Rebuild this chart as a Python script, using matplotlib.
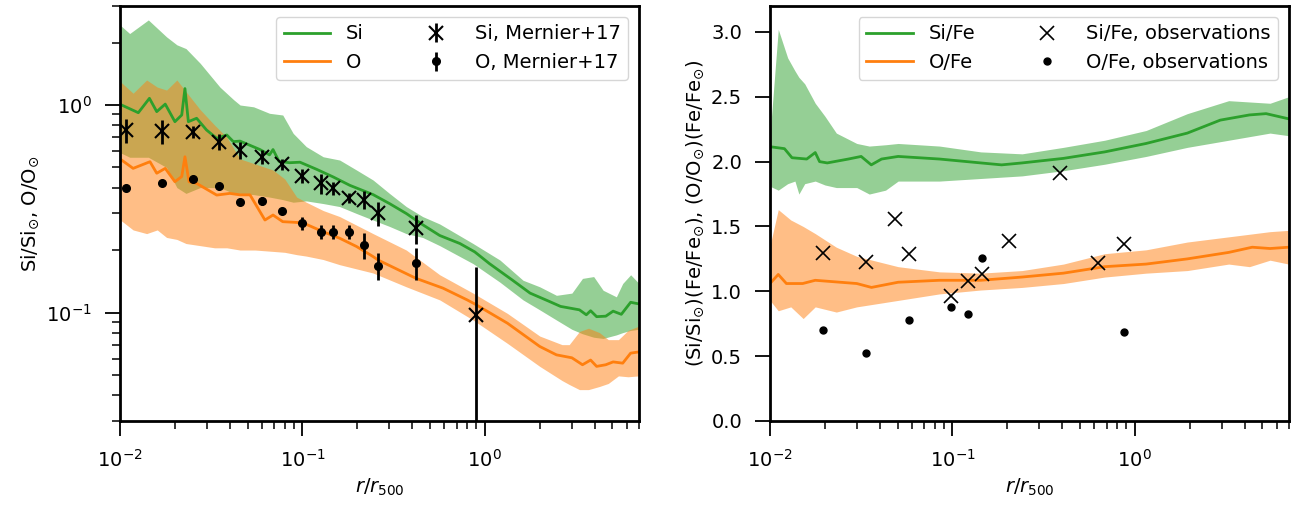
import numpy as np
import matplotlib
matplotlib.use("Agg")
import matplotlib.pyplot as plt

# ---- left panel: simulation medians ----
si_r = [0.0102, 0.0126, 0.0145, 0.0159, 0.0177, 0.0200, 0.0218, 0.0227, 0.0237, 0.0263,
        0.0298, 0.0339, 0.0385, 0.0418, 0.0455, 0.0585, 0.066, 0.069, 0.0744, 0.085,
        0.097, 0.1195, 0.1475, 0.182, 0.244, 0.30, 0.371, 0.456, 0.566, 0.73,
        0.88, 1.06, 1.42, 1.77, 2.26, 2.6, 3.3, 3.6, 3.8, 4.1,
        4.6, 5.05, 5.6, 6.3, 7.0]
si_med = [1.0, 0.918, 1.077, 0.929, 1.01, 0.831, 0.895, 1.20, 0.831, 0.863,
          0.758, 0.691, 0.717, 0.666, 0.67, 0.61, 0.575, 0.61, 0.535, 0.527,
          0.53, 0.49, 0.45, 0.41, 0.37, 0.335, 0.30, 0.265, 0.235, 0.215,
          0.196, 0.172, 0.143, 0.124, 0.113, 0.107, 0.103, 0.0975, 0.102, 0.0955,
          0.096, 0.1015, 0.098, 0.112, 0.110]

o_r = [0.0102, 0.0118, 0.0146, 0.0159, 0.0177, 0.0200, 0.0218, 0.0227, 0.0239, 0.0263,
       0.0339, 0.040, 0.0455, 0.0516, 0.0623, 0.069, 0.078, 0.091, 0.101, 0.13,
       0.16, 0.198, 0.244, 0.26, 0.42, 0.59, 0.80, 0.88, 1.33, 2.0,
       2.47, 3.0, 3.43, 3.8, 4.1, 4.6, 5.05, 5.7, 6.3, 7.0]
o_med = [0.543, 0.495, 0.533, 0.469, 0.495, 0.427, 0.452, 0.563, 0.427, 0.419,
         0.368, 0.375, 0.369, 0.369, 0.279, 0.295, 0.274, 0.272, 0.27, 0.245,
         0.228, 0.208, 0.186, 0.179, 0.146, 0.131, 0.115, 0.110, 0.0888, 0.0686,
         0.0625, 0.0605, 0.056, 0.059, 0.055, 0.056, 0.0578, 0.057, 0.0637, 0.0646]

# scatter bands
si_band_r = [0.0100, 0.0113, 0.0143, 0.018, 0.0205, 0.023, 0.0275, 0.0353, 0.042, 0.0455,
             0.054, 0.066, 0.078, 0.089, 0.105, 0.13, 0.16, 0.198, 0.244, 0.30,
             0.371, 0.456, 0.566, 0.862, 1.21, 1.62, 2.0, 2.47, 3.0, 3.43,
             3.95, 4.45, 5.26, 5.7, 6.3, 7.0]
si_hi = [2.43, 2.21, 2.57, 2.13, 1.95, 1.87, 1.59, 1.22, 1.06, 1.00,
         0.98, 0.912, 0.895, 0.73, 0.63, 0.563, 0.543, 0.486, 0.435, 0.375,
         0.324, 0.29, 0.267, 0.215, 0.179, 0.143, 0.133, 0.121, 0.124, 0.146,
         0.149, 0.128, 0.119, 0.138, 0.152, 0.138]
si_lo = [0.59, 0.56, 0.56, 0.50, 0.40, 0.375, 0.40, 0.40, 0.375, 0.375,
         0.37, 0.36, 0.35, 0.34, 0.345, 0.335, 0.324, 0.30, 0.279, 0.26,
         0.24, 0.23, 0.21, 0.172, 0.14, 0.115, 0.103, 0.092, 0.083, 0.079,
         0.076, 0.075, 0.078, 0.080, 0.082, 0.083]

o_band_r = [0.0100, 0.0118, 0.014, 0.016, 0.018, 0.0205, 0.023, 0.0275, 0.0330, 0.0385,
            0.0455, 0.055, 0.069, 0.080, 0.093, 0.105, 0.13, 0.16, 0.244, 0.371,
            0.566, 0.862, 1.33, 2.0, 2.65, 2.9, 3.3, 3.7, 4.25, 4.75,
            5.4, 6.1, 7.0]
o_hi = [1.30, 1.14, 1.32, 1.22, 1.18, 1.32, 1.16, 0.95, 0.80, 0.70,
        0.55, 0.52, 0.486, 0.44, 0.36, 0.34, 0.31, 0.29, 0.24, 0.20,
        0.152, 0.124, 0.099, 0.077, 0.070, 0.070, 0.081, 0.084, 0.080, 0.074,
        0.074, 0.082, 0.086]
o_lo = [0.28, 0.25, 0.24, 0.25, 0.23, 0.225, 0.215, 0.21, 0.205, 0.205,
        0.20, 0.20, 0.197, 0.195, 0.19, 0.187, 0.18, 0.17, 0.155, 0.133,
        0.115, 0.092, 0.071, 0.055, 0.047, 0.045, 0.0425, 0.0425, 0.044, 0.0455,
        0.0495, 0.049, 0.0495]

# Mernier+17 observations
obs_si_r = [0.0108, 0.0170, 0.0250, 0.035, 0.0455, 0.0603, 0.0775, 0.0998, 0.127, 0.1475,
            0.180, 0.217, 0.260, 0.42, 0.889]
obs_si = [0.758, 0.749, 0.744, 0.666, 0.607, 0.564, 0.518, 0.456, 0.419, 0.397,
          0.357, 0.349, 0.301, 0.255, 0.097]
obs_si_err = [0.10, 0.10, 0.05, 0.06, 0.055, 0.045, 0.03, 0.035, 0.045, 0.03,
              0.02, 0.035, 0.04, 0.04, 0.069]

obs_o_r = obs_si_r[:14]
obs_o = [0.399, 0.419, 0.438, 0.407, 0.342, 0.346, 0.31, 0.269, 0.245, 0.245,
         0.245, 0.212, 0.168, 0.174]
obs_o_err = [0.008, 0.008, 0.008, 0.008, 0.01, 0.015, 0.01, 0.02, 0.02, 0.02,
             0.02, 0.03, 0.025, 0.03]

# ---- right panel: ratios to Fe ----
sife_r = [0.01, 0.0120, 0.0132, 0.0159, 0.0177, 0.0187, 0.0206, 0.0269, 0.0316, 0.0359,
          0.0409, 0.0504, 0.0849, 0.143, 0.186, 0.241, 0.406, 0.684, 1.153, 1.94,
          2.94, 4.25, 5.24, 6.97]
sife_med = [2.115, 2.10, 2.03, 2.02, 2.07, 2.0, 1.99, 2.02, 2.04, 1.975,
            2.02, 2.04, 2.02, 1.99, 1.975, 1.99, 2.025, 2.075, 2.14, 2.22,
            2.32, 2.36, 2.37, 2.33]
sife_band_r = [0.01, 0.0111, 0.0125, 0.0137, 0.0144, 0.0155, 0.0177, 0.02, 0.0231, 0.0299,
               0.035, 0.043, 0.0504, 0.0849, 0.143, 0.241, 0.406, 0.684, 1.153, 1.94,
               3.27, 5.51, 6.97]
sife_hi = [2.2, 3.02, 2.8, 2.7, 2.65, 2.6, 2.45, 2.35, 2.22, 2.14,
           2.12, 2.13, 2.14, 2.12, 2.075, 2.06, 2.11, 2.165, 2.24, 2.37,
           2.47, 2.45, 2.50]
sife_lo = [1.81, 1.78, 1.83, 1.85, 1.75, 1.83, 1.85, 1.82, 1.80, 1.80,
           1.75, 1.78, 1.85, 1.85, 1.87, 1.89, 1.93, 1.98, 2.04, 2.11,
           2.165, 2.22, 2.20]

ofe_r = [0.01, 0.0111, 0.0123, 0.0151, 0.0177, 0.0299, 0.036, 0.0504, 0.0849, 0.143,
         0.241, 0.406, 0.684, 1.153, 1.94, 3.27, 4.4, 5.51, 6.97]
ofe_med = [1.06, 1.13, 1.06, 1.06, 1.085, 1.06, 1.03, 1.07, 1.085, 1.085,
           1.11, 1.14, 1.19, 1.21, 1.25, 1.30, 1.34, 1.33, 1.34]
ofe_band_r = [0.01, 0.0111, 0.0130, 0.0152, 0.0177, 0.0231, 0.0299, 0.0504, 0.0849, 0.143,
              0.241, 0.406, 0.684, 1.153, 1.94, 3.27, 4.25, 5.51, 6.97]
ofe_hi = [1.35, 1.63, 1.55, 1.50, 1.445, 1.34, 1.27, 1.19, 1.15, 1.14,
          1.16, 1.21, 1.29, 1.32, 1.38, 1.42, 1.44, 1.46, 1.47]
ofe_lo = [0.93, 0.85, 0.88, 0.79, 0.88, 0.84, 0.88, 0.93, 0.98, 1.01,
          1.03, 1.06, 1.11, 1.14, 1.16, 1.21, 1.19, 1.24, 1.21]

obs_sife_r = [0.0194, 0.0337, 0.0485, 0.058, 0.0978, 0.121, 0.145, 0.204, 0.388, 0.632, 0.875]
obs_sife = [1.296, 1.227, 1.556, 1.286, 0.962, 1.080, 1.137, 1.387, 1.914, 1.222, 1.363]
obs_ofe_r = [0.0194, 0.0337, 0.058, 0.0978, 0.121, 0.145, 0.875]
obs_ofe = [0.705, 0.527, 0.777, 0.880, 0.828, 1.258, 0.687]

FS = 14
plt.rcParams['font.family'] = 'DejaVu Sans'
plt.rcParams['mathtext.fontset'] = 'dejavusans'

fig = plt.figure(figsize=(12.98, 5.05), dpi=100)
ax1 = fig.add_axes([120/1298, 84/505, 519/1298, 415/505])
ax2 = fig.add_axes([770/1298, 84/505, 519/1298, 415/505])

green = '#2ca02c'
orange = '#ff7f0e'
leg_kw = dict(ncol=2, loc='upper right', fontsize=FS, handlelength=2.4,
              columnspacing=2.5, borderaxespad=0.55)

# left
ax1.fill_between(si_band_r, si_lo, si_hi, color=green, alpha=0.5, lw=0)
ax1.fill_between(o_band_r, o_lo, o_hi, color=orange, alpha=0.5, lw=0)
ax1.plot(si_r, si_med, color=green, lw=2, label='Si')
ax1.plot(o_r, o_med, color=orange, lw=2, label='O')
ax1.errorbar(obs_si_r, obs_si, yerr=obs_si_err, fmt='x', color='k', ms=10, mew=1.5,
             elinewidth=2, label='Si, Mernier+17')
ax1.errorbar(obs_o_r, obs_o, yerr=obs_o_err, fmt='o', color='k', ms=5.5,
             elinewidth=2, label='O, Mernier+17')
ax1.set_xscale('log')
ax1.set_yscale('log')
ax1.set_xlim(0.01, 7)
ax1.set_ylim(0.03, 3)
ax1.set_ylabel(r'Si/Si$_{\odot}$, O/O$_{\odot}$', fontsize=FS)
ax1.set_xlabel(r'$r/r_{500}$', fontsize=FS)
ax1.legend(**leg_kw)

# right
ax2.fill_between(sife_band_r, sife_lo, sife_hi, color=green, alpha=0.5, lw=0)
ax2.fill_between(ofe_band_r, ofe_lo, ofe_hi, color=orange, alpha=0.5, lw=0)
ax2.plot(sife_r, sife_med, color=green, lw=2, label='Si/Fe')
ax2.plot(ofe_r, ofe_med, color=orange, lw=2, label='O/Fe')
ax2.plot(obs_sife_r, obs_sife, 'x', color='k', ms=10, mew=1.2, label='Si/Fe, observations')
ax2.plot(obs_ofe_r, obs_ofe, 'o', color='k', ms=5, label='O/Fe, observations')
ax2.set_xscale('log')
ax2.set_xlim(0.01, 7)
ax2.set_ylim(0, 3.2)
ax2.set_yticks(np.arange(0, 3.01, 0.5))
ax2.set_ylabel(r'(Si/Si$_{\odot}$)(Fe/Fe$_{\odot}$), (O/O$_{\odot}$)(Fe/Fe$_{\odot}$)', fontsize=FS)
ax2.set_xlabel(r'$r/r_{500}$', fontsize=FS)
ax2.legend(**leg_kw)

for ax in (ax1, ax2):
    for s in ax.spines.values():
        s.set_linewidth(2)
    ax.tick_params(which='major', length=11, width=1.3, labelsize=FS, pad=9)
    ax.tick_params(which='minor', length=5.5, width=1.1)

fig.savefig('out.png', dpi=100)
